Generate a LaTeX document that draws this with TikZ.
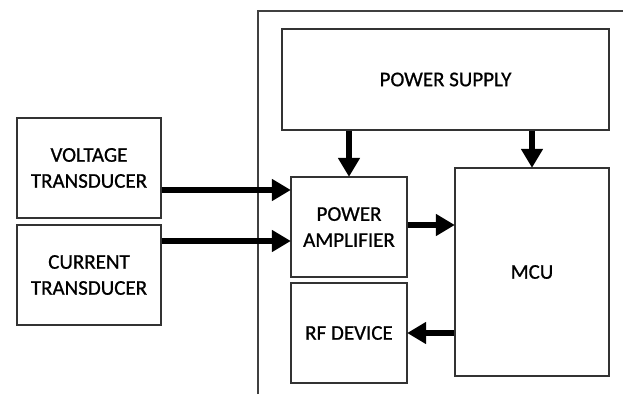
\documentclass[tikz,border=0pt]{standalone}
\usepackage{fontspec}
\setmainfont{Carlito}[FakeBold=0.8]
\usetikzlibrary{arrows.meta}
\begin{document}
\begin{tikzpicture}[x=1pt,y=-1pt,
  block/.style={draw=black!80,line width=1.3pt,fill=white,align=center,
    font=\fontsize{21}{26}\selectfont,inner sep=0pt},
  flow/.style={line width=6pt,-{Triangle[length=19pt,width=21pt]},shorten >=-0.5pt}]
\useasboundingbox (0,0) rectangle (623,394);
% enclosure of the device (open on the right and at the bottom)
\draw[black!75,line width=1.2pt] (258,394) -- (258,11) -- (623,11);
% blocks, placed by their centres
\node[block,minimum width=327pt,minimum height=101pt] (ps) at (445.5,79.5) {POWER SUPPLY};
\node[block,minimum width=144pt,minimum height=100pt] (vt) at (89,168) {VOLTAGE\\TRANSDUCER};
\node[block,minimum width=144pt,minimum height=100pt] (ct) at (89,275) {CURRENT\\TRANSDUCER};
\node[block,minimum width=116pt,minimum height=100pt] (pa) at (349,227) {POWER\\AMPLIFIER};
\node[block,minimum width=116pt,minimum height=100pt] (rf) at (349,333) {RF DEVICE};
\node[block,minimum width=154pt,minimum height=208pt] (mcu) at (532,272) {MCU};
% signal and supply paths
\draw[flow] (vt.east |- 0,190) -- (pa.west |- 0,190);
\draw[flow] (ct.east |- 0,241) -- (pa.west |- 0,241);
\draw[flow] (pa.east |- 0,225) -- (mcu.west |- 0,225);
\draw[flow] (mcu.west |- 0,333) -- (rf.east |- 0,333);
\draw[flow] (ps.south -| pa.north) -- (pa.north);
\draw[flow] (ps.south -| mcu.north) -- (mcu.north);
\end{tikzpicture}
\end{document}
